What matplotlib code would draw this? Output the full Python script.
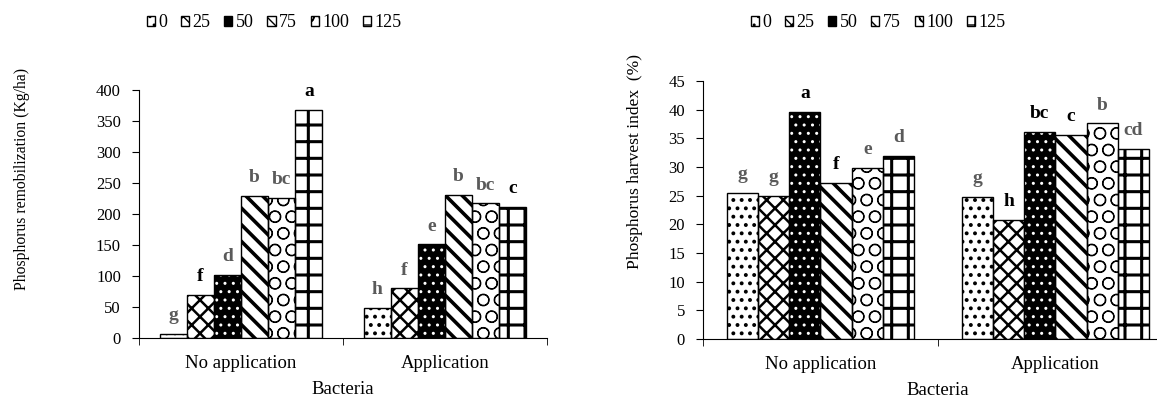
import matplotlib
matplotlib.use('Agg')
import matplotlib.pyplot as plt
from matplotlib.patches import Patch
import numpy as np

"""## Data"""

bacteria = ['No application', 'Application']
rates = ['0', '25', '50', '75', '100', '125']

# Phosphorus remobilization (Kg/ha), one list per rate: [No application, Application]
remob = {
  '0':   [7, 49],
  '25':  [70, 80],
  '50':  [102, 151],
  '75':  [229, 231],
  '100': [226, 217],
  '125': [368, 211],
}
remob_letters = {
  '0':   ['g', 'h'],
  '25':  ['f', 'f'],
  '50':  ['d', 'e'],
  '75':  ['b', 'b'],
  '100': ['bc', 'bc'],
  '125': ['a', 'c'],
}

# Phosphorus harvest index (%)
phi = {
  '0':   [25.5, 24.8],
  '25':  [25.0, 20.8],
  '50':  [39.6, 36.1],
  '75':  [27.2, 35.6],
  '100': [29.8, 37.6],
  '125': [32.0, 33.2],
}
phi_letters = {
  '0':   ['g', 'g'],
  '25':  ['g', 'h'],
  '50':  ['a', 'bc'],
  '75':  ['f', 'c'],
  '100': ['e', 'b'],
  '125': ['d', 'cd'],
}

"""## Style"""

plt.rcParams['font.family'] = ['Liberation Serif', 'DejaVu Serif']

# face, hatch colour, hatch, hatch linewidth
STYLES = {
  '0':   ('white', 'black', '..', 1.6),
  '25':  ('white', 'black', 'xx', 1.8),
  '50':  ('black', 'white', '..', 1.0),
  '75':  ('white', 'black', '\\\\', 2.6),
  '100': ('white', 'black', 'O', 0.8),
  '125': ('white', 'black', '+', 2.2),
}
GRAY = '#5a5a5a'
# which letters are drawn black rather than gray
remob_black = {('25', 0), ('125', 0), ('125', 1)}
phi_black = {('50', 0), ('75', 0), ('25', 1), ('50', 1), ('75', 1)}

FS = 13.5
TICK_FS = 12


def drawPanel(ax, data, letters, blackSet, ymax, ystep):
  x = np.arange(len(bacteria))
  w = 0.133
  for j, r in enumerate(rates):
    face, hcol, hatch, hlw = STYLES[r]
    pos = x + (j - 2.5) * w
    with plt.rc_context({'hatch.linewidth': hlw}):
      bars = ax.bar(pos, data[r], width=w, color=face, edgecolor=hcol, hatch=hatch, linewidth=0, zorder=2)
    for b in bars:
      if hasattr(b, 'set_hatch_linewidth'):
        b.set_hatch_linewidth(hlw)
    ax.bar(pos, data[r], width=w, fill=False, edgecolor='black', linewidth=1.0, zorder=3)
    for i in range(len(bacteria)):
      col = 'black' if (r, i) in blackSet else GRAY
      ax.annotate(letters[r][i], (pos[i], data[r][i]), xytext=(0, 7), textcoords='offset points',
                  ha='center', va='bottom', fontsize=14, fontweight='bold', color=col)

  ax.set_xlim(-0.5, 1.5)
  ax.set_ylim(0, ymax)
  ax.set_yticks(np.arange(0, ymax + 1e-9, ystep))
  ax.set_xticks(x)
  ax.set_xticklabels(bacteria, fontsize=FS)
  ax.set_xticks([-0.5, 0.5, 1.5], minor=True)
  ax.tick_params(axis='x', which='major', length=0, pad=12)
  ax.tick_params(axis='x', which='minor', length=5, direction='out')
  ax.tick_params(axis='y', length=5, direction='out', labelsize=TICK_FS, pad=8)
  for s in ['top', 'right']:
    ax.spines[s].set_visible(False)
  ax.set_xlabel('Bacteria', fontsize=FS, labelpad=7)

  handles = [Patch(facecolor=STYLES[r][0], edgecolor='black', hatch=STYLES[r][2]) for r in rates]
  return handles


fig = plt.figure(figsize=(11.57, 3.98), dpi=100)
legendKw = dict(loc='center', ncol=6, frameon=False, fontsize=13, handlelength=0.45, handleheight=0.45,
                handletextpad=0.2, columnspacing=0.75, borderpad=0.2)

ax1 = fig.add_axes([0.1201, 0.1508, 0.3527, 0.6231])
h1 = drawPanel(ax1, remob, remob_letters, remob_black, 400, 50)
fig.text(0.019, 0.55, 'Phosphorus remobilization (Kg/ha)', rotation=90, ha='center', va='center', fontsize=11.3)
fig.legend(h1, rates, bbox_to_anchor=(0.237, 0.943), **legendKw)

ax2 = fig.add_axes([0.6076, 0.1482, 0.4062, 0.6482])
h2 = drawPanel(ax2, phi, phi_letters, phi_black, 45, 5)
fig.text(0.549, 0.593, 'Phosphorus harvest index  (%)', rotation=90, ha='center', va='center', fontsize=12.6)
fig.legend(h2, rates, bbox_to_anchor=(0.759, 0.943), **legendKw)

fig.savefig('out.png', dpi=100)
